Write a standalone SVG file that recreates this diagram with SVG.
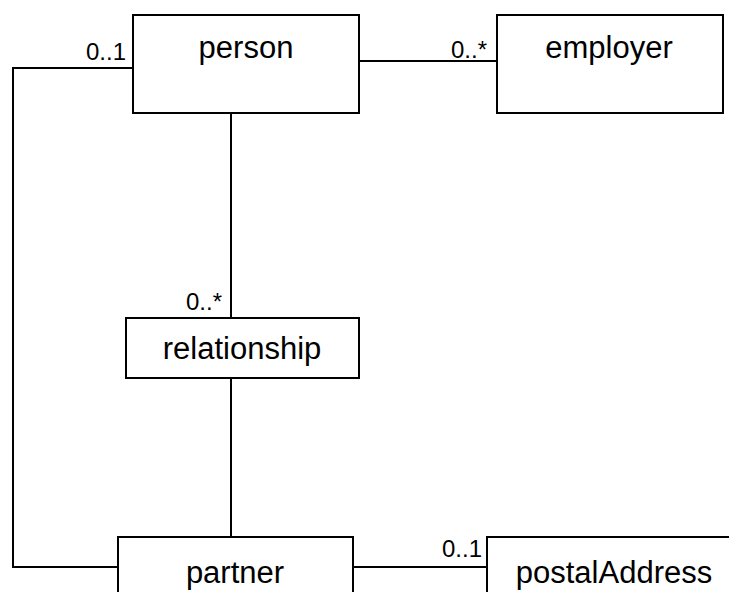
<svg xmlns="http://www.w3.org/2000/svg" width="729" height="592" viewBox="0 0 729 592">
<style>
.box{fill:#fff;stroke:#000;stroke-width:2}
.ln{fill:none;stroke:#000;stroke-width:2}
.t{font-family:"Liberation Sans",Arial,sans-serif;font-size:31px;fill:#000;text-anchor:middle}
.m{font-family:"Liberation Sans",Arial,sans-serif;font-size:24px;fill:#000;text-anchor:end}
</style>
<rect width="729" height="592" fill="#fff"/>
<g id="connectors">
<polyline class="ln" points="133,68 13,68 13,567 118,567"/>
<line class="ln" x1="359" y1="61" x2="497" y2="61"/>
<line class="ln" x1="231" y1="113" x2="231" y2="318"/>
<line class="ln" x1="231" y1="378" x2="231" y2="537"/>
<line class="ln" x1="353" y1="567" x2="487" y2="567"/>
<text class="m" x="126" y="60">0..1</text>
<text class="m" x="487" y="58">0..*</text>
<text class="m" x="222" y="310">0..*</text>
<text class="m" x="482" y="557">0..1</text>
</g>
<g id="person">
<rect class="box" x="133" y="15" width="226" height="98"/>
<text class="t" x="246" y="58">person</text>
</g>
<g id="employer">
<rect class="box" x="497" y="15" width="226" height="98"/>
<text class="t" x="609" y="58">employer</text>
</g>
<g id="relationship">
<rect class="box" x="126" y="318" width="233" height="60"/>
<text class="t" x="242" y="359">relationship</text>
</g>
<g id="partner">
<rect class="box" x="118" y="537" width="235" height="70"/>
<text class="t" x="235" y="583">partner</text>
</g>
<g id="postalAddress">
<rect class="box" x="487" y="537" width="260" height="70"/>
<text class="t" x="614" y="583">postalAddress</text>
</g>
</svg>
